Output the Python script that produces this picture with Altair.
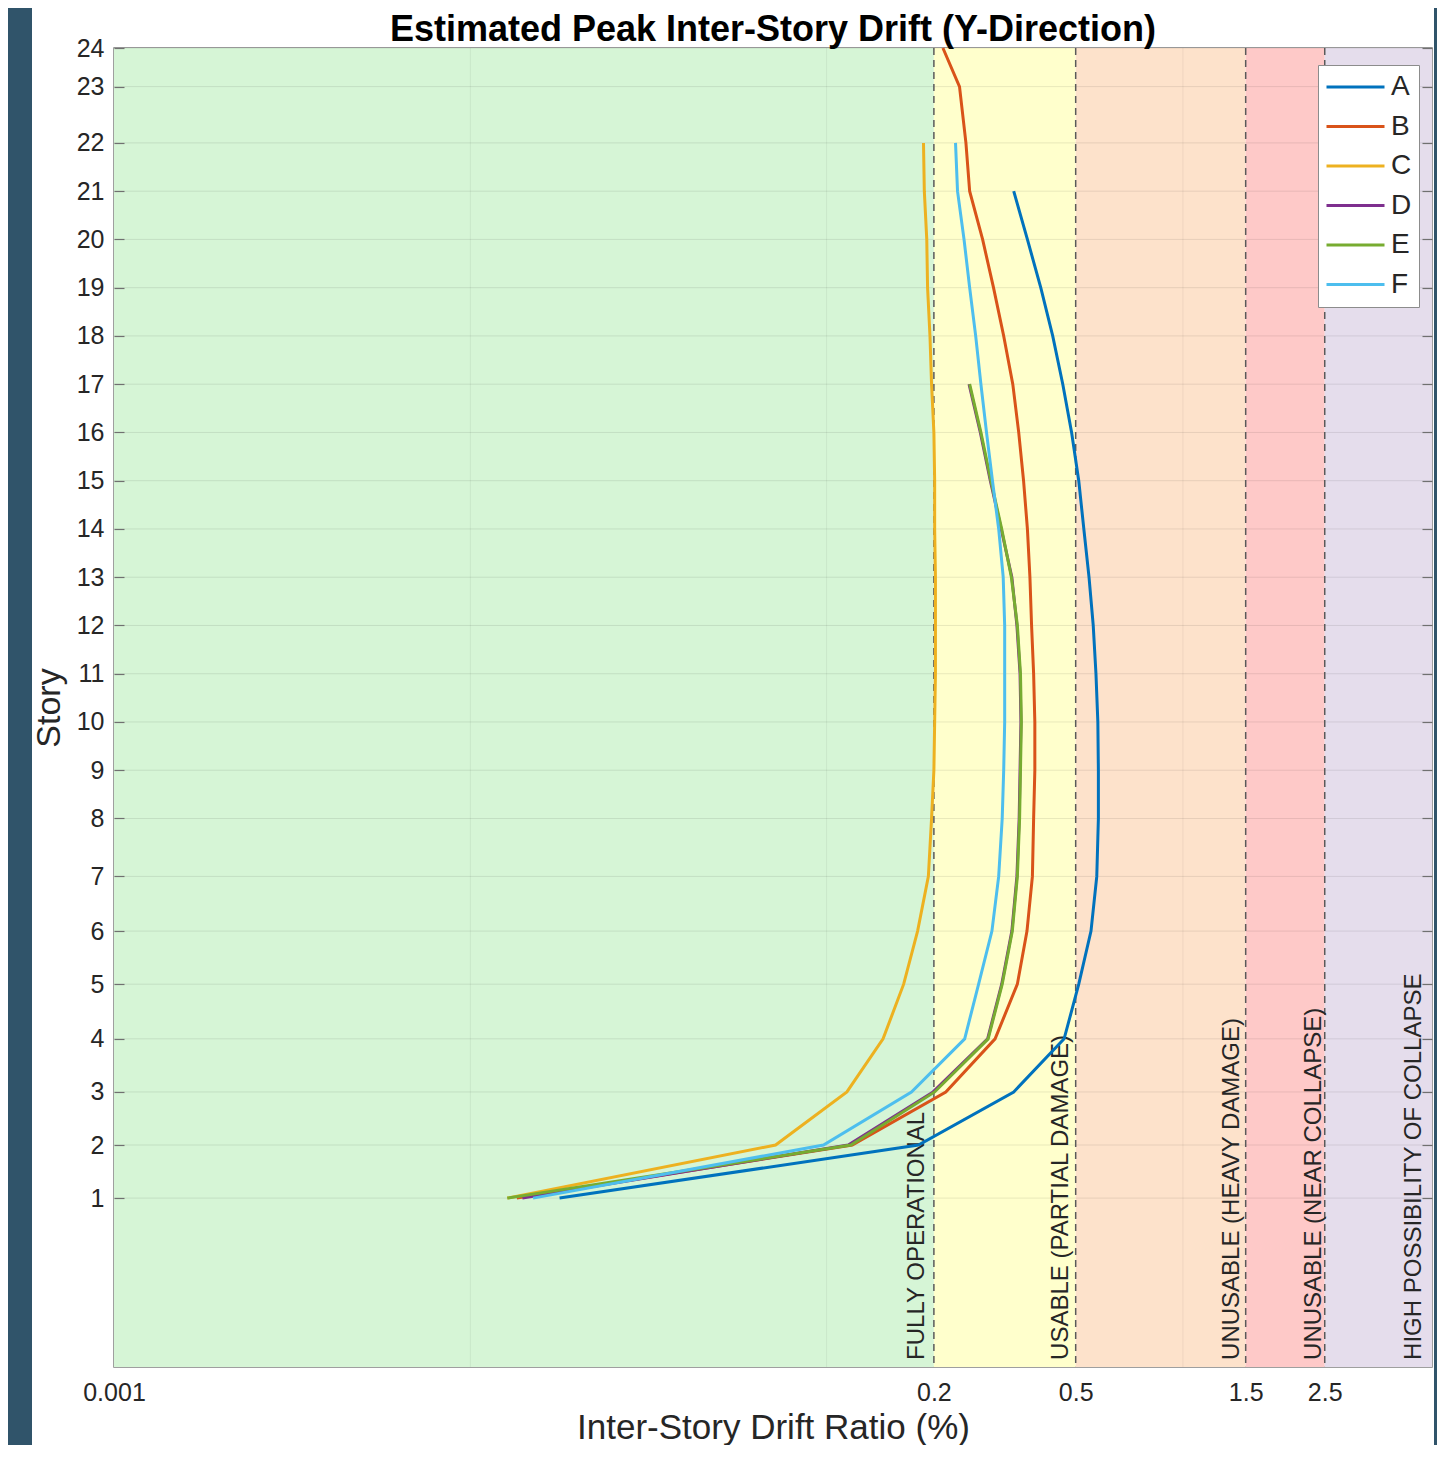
import json
import altair as alt
import pandas as pd

# ---------------- data ----------------
title_text = "Estimated Peak Inter-Story Drift (Y-Direction)"
story_labels = [str(i) for i in range(1, 25)]
# floor elevations (m) of stories 1..24 (ground = 0)
story_elev = [10.5, 13.8, 17.1, 20.4, 23.8, 27.1, 30.5, 34.1, 37.1, 40.1, 43.1, 46.1,
              49.1, 52.1, 55.1, 58.1, 61.1, 64.1, 67.1, 70.1, 73.1, 76.1, 79.6, 82.0]

series_names = ["A", "B", "C", "D", "E", "F"]
series_colors = ["#0072BD", "#D95319", "#EDB120", "#7E2F8E", "#77AC30", "#4DBEEE"]

drift_A = [0.0178, 0.181, 0.335, 0.464, 0.510, 0.552, 0.573, 0.579, 0.579, 0.577, 0.570,
           0.560, 0.545, 0.527, 0.510, 0.487, 0.460, 0.431, 0.399, 0.366, 0.335]
drift_B = [0.0135, 0.118, 0.216, 0.297, 0.343, 0.365, 0.378, 0.381, 0.384, 0.384, 0.381,
           0.376, 0.372, 0.366, 0.357, 0.346, 0.333, 0.314, 0.294, 0.274, 0.252, 0.246,
           0.236, 0.212]
drift_C = [0.0127, 0.0719, 0.114, 0.144, 0.1645, 0.180, 0.193, 0.197, 0.200, 0.201, 0.202,
           0.202, 0.202, 0.201, 0.201, 0.200, 0.197, 0.195, 0.192, 0.191, 0.188, 0.187]
drift_D = [0.0140, 0.115, 0.199, 0.283, 0.310, 0.331, 0.342, 0.347, 0.349, 0.351, 0.349,
           0.342, 0.331, 0.309, 0.288, 0.270, 0.251]
drift_E = [0.0127, 0.117, 0.201, 0.284, 0.311, 0.332, 0.343, 0.348, 0.350, 0.352, 0.350,
           0.343, 0.330, 0.310, 0.289, 0.271, 0.252]
drift_F = [0.0150, 0.098, 0.173, 0.244, 0.267, 0.291, 0.304, 0.311, 0.314, 0.316, 0.316,
           0.316, 0.313, 0.304, 0.292, 0.281, 0.271, 0.262, 0.252, 0.243, 0.233, 0.230]

zone_lo = [0.001, 0.2, 0.5, 1.5, 2.5]
zone_hi = [0.2, 0.5, 1.5, 2.5, 5.0]
zone_colors = ["#d6f5d6", "#ffffcc", "#fde2cb", "#fec9c8", "#e5ddec"]
zone_labels = ["FULLY OPERATIONAL", "USABLE (PARTIAL DAMAGE)", "UNUSABLE (HEAVY DAMAGE)",
               "UNUSABLE (NEAR COLLAPSE)", "HIGH POSSIBILITY OF COLLAPSE"]
zone_label_x = [0.188, 0.475, 1.44, 2.44, 4.66]
zone_label_elev = 0.44
thresholds = [0.2, 0.5, 1.5, 2.5]
x_ticks = [0.001, 0.2, 0.5, 1.5, 2.5]
minor_grid = [0.01, 0.1, 1.0]
x_domain = [0.001, 5.0]
y_domain = [0, 82.0]

# ---------------- tables ----------------
rows = []
for name, vals in zip(series_names, [drift_A, drift_B, drift_C, drift_D, drift_E, drift_F]):
    for i, v in enumerate(vals):
        rows.append({"series": name, "story": i + 1, "elev": story_elev[i], "drift": v})
df_lines = pd.DataFrame(rows)
df_zones = pd.DataFrame({"lo": zone_lo, "hi": zone_hi, "col": zone_colors})
df_zlab = pd.DataFrame({"x": zone_label_x, "y": [zone_label_elev] * 5, "label": zone_labels})
df_thr = pd.DataFrame({"x": thresholds})
df_minor = pd.DataFrame({"x": minor_grid})
df_hgrid = pd.DataFrame({"elev": story_elev})
df_dummy = pd.DataFrame({"a": [0]})
df_title = pd.DataFrame({"t": [title_text]})

W, H = 1318, 1319
PAD_L, PAD_T, PAD_R, PAD_B = 106, 40, 5, 78
FONT = "Liberation Sans"
TXT = "#262626"
FRAME = "#30546a"

xscale = alt.Scale(type="log", domain=x_domain, nice=False)
yscale = alt.Scale(domain=y_domain, nice=False, zero=True)

label_expr_y = f"{json.dumps(story_labels)}[indexof({json.dumps(story_elev)}, datum.value)]"

xaxis = alt.Axis(values=x_ticks, format="~g",
                 title="Inter-Story Drift Ratio (%)", labelFontSize=25, titleFontSize=35,
                 labelColor=TXT, titleColor=TXT, labelFont=FONT, titleFont=FONT,
                 titleFontWeight="normal", ticks=False, domain=False, grid=False,
                 labelPadding=13, titleBaseline="alphabetic", titleY=71,
                 labelFlush=False, labelOverlap=False)
yaxis = alt.Axis(values=story_elev, labelExpr=label_expr_y, title="Story",
                 labelFontSize=25, titleFontSize=34, labelColor=TXT, titleColor=TXT,
                 labelFont=FONT, titleFont=FONT, titleFontWeight="normal",
                 ticks=True, tickSize=10, tickColor="#707070", tickWidth=1.2,
                 offset=-10, domain=False, grid=False, labelPadding=10, titlePadding=10,
                 labelOverlap=False, labelFlush=False, zindex=1)
yaxis_right = alt.Axis(values=story_elev, orient="right", labels=False, title=None,
                       ticks=True, tickSize=10, tickColor="#707070", tickWidth=1.2,
                       offset=-10, domain=False, grid=False, zindex=1)

# dark frame strips at the left and right of the figure
strip_left = alt.Chart(df_dummy).mark_rect(color=FRAME).encode(
    x=alt.value(-PAD_L), x2=alt.value(-82), y=alt.value(-PAD_T), y2=alt.value(H + PAD_B))
strip_right = alt.Chart(df_dummy).mark_rect(color=FRAME).encode(
    x=alt.value(W + 2), x2=alt.value(W + PAD_R), y=alt.value(-PAD_T), y2=alt.value(H + PAD_B))

title_mark = alt.Chart(df_title).mark_text(
    fontSize=36, font=FONT, fontWeight="bold", color="#000000",
    align="center", baseline="alphabetic").encode(
    x=alt.value(W / 2), y=alt.value(-7), text="t:N")

zones = alt.Chart(df_zones).mark_rect().encode(
    x=alt.X("lo:Q", scale=xscale, axis=xaxis),
    x2="hi:Q",
    fill=alt.Fill("col:N", scale=None, legend=None),
)

hgrid = alt.Chart(df_hgrid).mark_rule(color="#000000", opacity=0.09, strokeWidth=1).encode(
    y=alt.Y("elev:Q", scale=yscale, axis=yaxis_right))

vgrid = alt.Chart(df_minor).mark_rule(color="#000000", opacity=0.06, strokeWidth=1).encode(
    x=alt.X("x:Q", scale=xscale))

thr = alt.Chart(df_thr).mark_rule(color="#5a5a5a", strokeDash=[7, 5], strokeWidth=1.5).encode(
    x=alt.X("x:Q", scale=xscale))

zlab = alt.Chart(df_zlab).mark_text(angle=270, align="left", baseline="alphabetic",
                                    fontSize=24, font=FONT, color=TXT).encode(
    x=alt.X("x:Q", scale=xscale),
    y=alt.Y("y:Q", scale=yscale, axis=None),
    text="label:N")

lines = alt.Chart(df_lines).mark_line(strokeWidth=3).encode(
    x=alt.X("drift:Q", scale=xscale),
    y=alt.Y("elev:Q", scale=yscale, axis=yaxis),
    color=alt.Color("series:N",
                    scale=alt.Scale(domain=series_names, range=series_colors),
                    legend=alt.Legend(title=None, orient="none", legendX=1204, legendY=17,
                                      symbolType="stroke", symbolSize=3364,
                                      symbolStrokeWidth=3, labelFontSize=28, labelFont=FONT,
                                      labelColor=TXT, fillColor="white",
                                      strokeColor="#8c8c8c", padding=7, rowPadding=9.5,
                                      clipHeight=30, labelOffset=5)),
    order="story:Q",
)

chart = alt.layer(strip_left, strip_right, zones, hgrid, vgrid, thr, zlab, lines,
                  title_mark).resolve_axis(
    y="independent"
).properties(
    width=W, height=H,
    padding={"left": PAD_L, "top": PAD_T, "right": PAD_R, "bottom": PAD_B},
    autosize=alt.AutoSizeParams(type="none"),
    background="white",
).configure_view(stroke="#808080", strokeWidth=1.5)

chart.save("out.html", embed_options={"renderer": "svg", "actions": False})
